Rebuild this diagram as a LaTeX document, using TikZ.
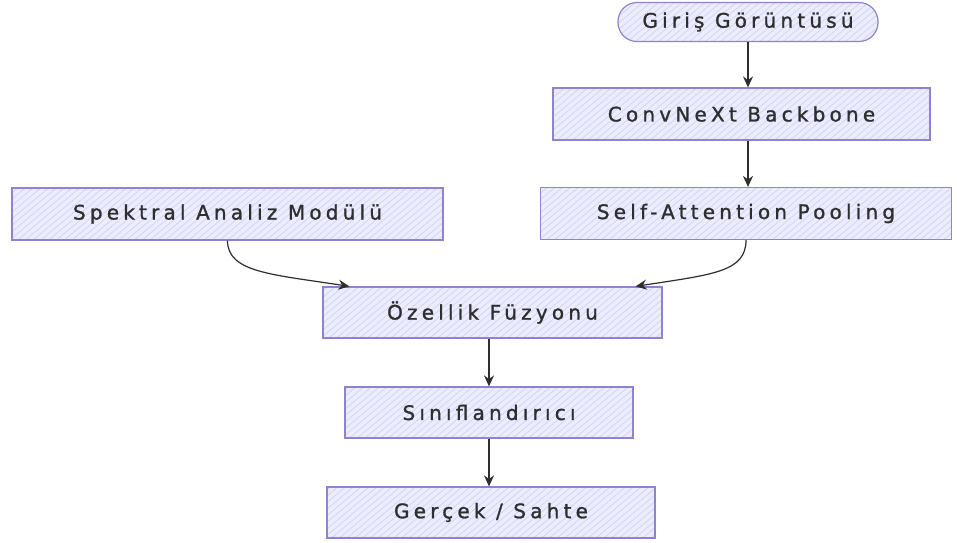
\documentclass[tikz,border=0pt]{standalone}
\usepackage{fontspec}
\setmainfont{DejaVu Sans}[LetterSpace=21,FakeBold=1.2]
\usetikzlibrary{patterns.meta,arrows.meta}
\definecolor{lav}{HTML}{ECECFF}
\definecolor{hatch}{HTML}{D4D4F0}
\definecolor{bord}{HTML}{8F82D0}
\definecolor{txt}{HTML}{2E2E2E}
\tikzset{
  box/.style={draw=bord, line width=1.2pt, preaction={fill=lav},
    pattern={Lines[angle=40,distance=5pt,line width=0.8pt]}, pattern color=hatch,
    minimum height=52pt, inner sep=0pt, text=txt,
    font=\fontsize{20}{24}\selectfont},
  startbox/.style={box, rounded corners=19pt, minimum height=39pt},
  link/.style={draw=txt, line width=1.2pt, -{Stealth[length=11pt,width=10pt]}}
}
\begin{document}
\begin{tikzpicture}[x=1pt,y=-1pt]
\useasboundingbox (0,0) rectangle (957,542);
\node[startbox, minimum width=260pt] (gir) at (748,22) {Giriş Görüntüsü};
\node[box, minimum width=377pt] (conv) at (741.5,114) {ConvNeXt Backbone};
\node[box, minimum width=411pt] (self) at (746,213.5) {Self-Attention Pooling};
\node[box, minimum width=431pt] (spek) at (227.5,214) {Spektral Analiz Modülü};
\node[box, minimum width=339pt, minimum height=51pt] (ozel) at (492.5,312.5) {Özellik Füzyonu};
\node[box, minimum width=288pt, minimum height=51pt] (sin) at (489,412.5) {Sınıflandırıcı};
\node[box, minimum width=328pt, minimum height=51pt] (ger) at (491,512.5) {Gerçek / Sahte};
\draw[link] (gir.south) -- (gir.south |- conv.north);
\draw[link] (gir.south |- conv.south) -- (gir.south |- self.north);
\draw[link] (spek.south) .. controls ([yshift=-32pt]spek.south) and ([xshift=-50pt,yshift=12pt]ozel.north west) .. ([xshift=27pt]ozel.north west);
\draw[link] (self.south) .. controls ([yshift=-32pt]self.south) and ([xshift=50pt,yshift=12pt]ozel.north east) .. ([xshift=-27pt]ozel.north east);
\draw[link] (sin.north |- ozel.south) -- (sin.north);
\draw[link] (sin.south) -- (sin.south |- ger.north);
\end{tikzpicture}
\end{document}
